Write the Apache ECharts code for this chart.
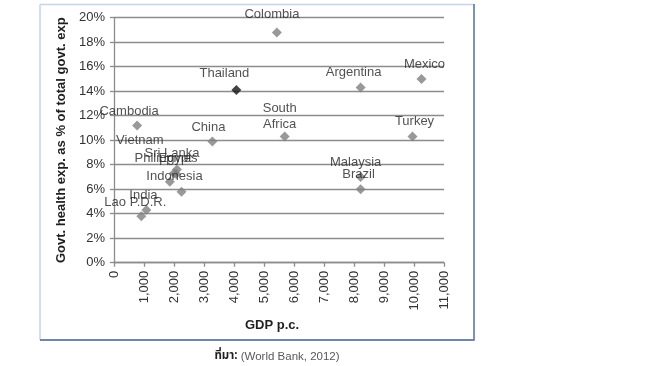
<!DOCTYPE html>
<html>
<head>
<meta charset="utf-8">
<script src="https://cdn.jsdelivr.net/npm/echarts@6/dist/echarts.min.js"></script>
<style>
html,body{margin:0;padding:0;background:#fff;}
#c{width:650px;height:366px;}
</style>
</head>
<body>
<div id="c"></div>
<script>
// ---- data ----
var countries = ['Colombia','Thailand','Argentina','Mexico','Cambodia','South\nAfrica','Turkey','China',
                 'Malaysia','Brazil','Sri Lanka','Egypt','Philippines','Vietnam','Indonesia','India','Lao P.D.R.'];
var gdpPc =      [5430, 4080, 8220, 10250, 770, 5690, 9950, 3280, 8220, 8220, 2100, 2070, 2000, 1860, 2250, 1080, 910];
var healthShare = [18.8, 14.1, 14.3, 15.0, 11.2, 10.3, 10.3, 9.9, 7.0, 6.0, 7.6, 7.25, 7.3, 6.6, 5.8, 4.3, 3.8];
var highlight = 'Thailand';
var xTicks = [0,1000,2000,3000,4000,5000,6000,7000,8000,9000,10000,11000];
var yTicks = [0,2,4,6,8,10,12,14,16,18,20];
var xTitle = 'GDP p.c.';
var yTitle = 'Govt. health exp. as % of total govt. exp';
var sourceLabel = 'ที่มา:';
var sourceText = ' (World Bank, 2012)';

// ---- label nudges (style only) ----
var labelShift = {
  'Colombia':[-5,-2],'Thailand':[-12,-1],'Argentina':[-7,1],'Mexico':[3,1],'Cambodia':[-8,2],
  'South\nAfrica':[-5,4],'Turkey':[2,1],'China':[-4,2],'Malaysia':[-5,1],'Brazil':[-2,1],
  'Sri Lanka':[-5,0],'Egypt':[-1,1],'Philippines':[-8,1],'Vietnam':[-30,-25],'Indonesia':[-7,1],
  'India':[-3,1],'Lao P.D.R.':[-6,2]
};

var FONT = '"Liberation Sans", Arial, sans-serif';
var points = countries.map(function(n,i){
  var isH = n === highlight;
  return {
    name:n, value:[gdpPc[i], healthShare[i]],
    itemStyle:{color: isH ? '#141414' : '#808080'}
  };
});

var chart = echarts.init(document.getElementById('c'), null, {renderer:'canvas'});
chart.setOption({
  animation:false,
  backgroundColor:'#ffffff',
  grid:{left:114, right:206, top:17.7, bottom:103.3, containLabel:false},
  xAxis:{
    type:'value', min:xTicks[0], max:xTicks[xTicks.length-1], interval:1000,
    name:xTitle, nameLocation:'middle', nameGap:56,
    nameTextStyle:{fontFamily:FONT, fontSize:13, fontWeight:'bold', color:'#1f1f1f', padding:[0,14,0,0]},
    axisLine:{show:true, onZero:false, lineStyle:{color:'#8c8c8c', width:1.3}},
    axisTick:{show:true, length:4, lineStyle:{color:'#8c8c8c', width:1.3}},
    axisLabel:{rotate:90, margin:8, fontFamily:FONT, fontSize:13, color:'#333333',
      formatter:function(v){return v.toLocaleString('en-US');}},
    splitLine:{show:false}
  },
  yAxis:{
    type:'value', min:yTicks[0], max:yTicks[yTicks.length-1], interval:2,
    name:yTitle, nameLocation:'middle', nameGap:38, nameRotate:90,
    nameTextStyle:{fontFamily:FONT, fontSize:13, fontWeight:'bold', color:'#1f1f1f'},
    axisLine:{show:true, lineStyle:{color:'#8c8c8c', width:1.3}},
    axisTick:{show:true, length:4, lineStyle:{color:'#8c8c8c', width:1.3}},
    axisLabel:{margin:9, fontFamily:FONT, fontSize:13, color:'#333333', formatter:'{value}%'},
    splitLine:{show:true, lineStyle:{color:'#8c8c8c', width:1.3}}
  },
  title:{
    text:'{b|'+sourceLabel+'}{r|'+sourceText+'}',
    left:272, top:346, textAlign:'center',
    textStyle:{fontWeight:'normal', rich:{
      b:{fontFamily:'"Noto Sans Thai","Noto Sans",'+FONT, fontSize:11.5, fontWeight:'bold', color:'#1f1f1f'},
      r:{fontFamily:FONT, fontSize:11.5, fontWeight:'normal', color:'#595959'}
    }}
  },
  graphic:[
    {type:'line', shape:{x1:40,y1:4.5,x2:474,y2:4.5}, style:{stroke:'#c5d5ea', lineWidth:1.5}, silent:true},
    {type:'line', shape:{x1:40,y1:4.5,x2:40,y2:340}, style:{stroke:'#c5d5ea', lineWidth:1.5}, silent:true},
    {type:'line', shape:{x1:474,y1:4,x2:474,y2:340.5}, style:{stroke:'#6f86ab', lineWidth:1.8}, silent:true},
    {type:'line', shape:{x1:40,y1:340,x2:474.5,y2:340}, style:{stroke:'#6f86ab', lineWidth:1.8}, silent:true}
  ],
  series:[{
    type:'scatter',
    symbol:'diamond', symbolSize:10,
    data:points,
    label:{show:true, position:'top', distance:3, fontFamily:FONT, fontSize:13, color:'#262626',
      lineHeight:16, formatter:function(p){return p.name;}},
    labelLayout:function(params){
      var n = countries[params.dataIndex];
      var s = labelShift[n] || [-5,0];
      return {dx:s[0], dy:s[1], hideOverlap:false};
    },
    z:3
  }]
});
</script>
</body>
</html>
